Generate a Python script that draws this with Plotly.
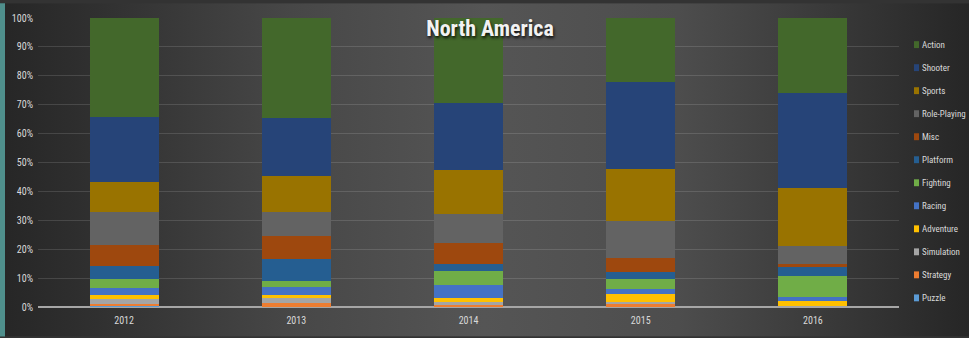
import base64
import plotly.graph_objects as go

# Share of North American sales by genre (percent of each year's total)
years = ["2012", "2013", "2014", "2015", "2016"]

# Stacking order: bottom segment first
genres = ["Puzzle", "Strategy", "Simulation", "Adventure", "Racing", "Fighting",
          "Platform", "Misc", "Role-Playing", "Sports", "Shooter", "Action"]

puzzle = [0.2, 0.1, 0.3, 0.1, 0.0]
strategy = [0.8, 1.4, 0.5, 0.8, 0.3]
simulation = [1.7, 1.6, 0.8, 0.8, 0.1]
adventure = [1.4, 1.1, 1.5, 2.7, 1.6]
racing = [2.6, 2.7, 4.4, 1.8, 1.5]
fighting = [2.9, 2.0, 5.1, 3.6, 7.1]
platform = [4.7, 7.6, 2.4, 2.4, 3.4]
misc = [7.0, 8.0, 7.2, 4.8, 1.0]
role_playing = [11.6, 8.4, 10.0, 12.9, 6.2]
sports = [10.5, 12.6, 15.1, 18.0, 20.1]
shooter = [22.5, 19.8, 23.3, 29.9, 32.8]
action = [34.1, 34.7, 29.4, 22.2, 25.9]

series = [puzzle, strategy, simulation, adventure, racing, fighting,
          platform, misc, role_playing, sports, shooter, action]

colors = ["#5b9bd5", "#ed7d31", "#a5a5a5", "#ffc000", "#4472c4", "#70ad47",
          "#255e91", "#9e480e", "#636363", "#997300", "#264478", "#43682b"]

W, H = 969, 338
ML, MR, MT, MB = 38, 70, 15, 30
PW, PH = W - ML - MR, H - MT - MB

FONT = "Liberation Sans Narrow, Arial Narrow, Roboto Condensed, Liberation Sans, sans-serif"
TXT = "#d9d9d9"

fig = go.Figure()
for name, vals, col in zip(genres, series, colors):
    fig.add_trace(go.Bar(
        x=years, y=vals, name=name,
        marker=dict(color=col, line=dict(width=0)),
        showlegend=False,
    ))

# Dark backdrop with a soft light centre
svg = (
    f'<svg xmlns="http://www.w3.org/2000/svg" width="{W}" height="{H}">'
    '<defs><linearGradient id="g" x1="0" y1="0" x2="1" y2="0">'
    '<stop offset="0" stop-color="#262626"/>'
    '<stop offset="0.1" stop-color="#303030"/>'
    '<stop offset="0.3" stop-color="#474747"/>'
    '<stop offset="0.5" stop-color="#555555"/>'
    '<stop offset="0.7" stop-color="#4d4d4d"/>'
    '<stop offset="0.88" stop-color="#363636"/>'
    '<stop offset="1" stop-color="#262626"/>'
    '</linearGradient></defs>'
    f'<rect width="{W}" height="{H}" fill="url(#g)"/></svg>'
)
src = "data:image/svg+xml;base64," + base64.b64encode(svg.encode()).decode()
fig.add_layout_image(dict(
    source=src, xref="paper", yref="paper",
    x=-ML / PW, y=1 + MT / PH, sizex=W / PW, sizey=H / PH,
    xanchor="left", yanchor="top", sizing="stretch", layer="below",
))

# Teal edge strip on the left
fig.add_shape(type="rect", xref="paper", yref="paper",
              x0=-ML / PW, x1=(5 - ML) / PW, y0=-MB / PH, y1=1 + MT / PH,
              fillcolor="#4f8f8c", line=dict(width=0), layer="above")

# Hand-built legend: top entry is the top of the stack
legend_top, legend_step = 42, 23.34
for i, (name, col) in enumerate(zip(genres[::-1], colors[::-1])):
    cy = legend_top + i * legend_step
    yc = 1 - (cy - MT) / PH
    fig.add_shape(type="rect", xref="paper", yref="paper",
                  x0=(914 - ML) / PW, x1=(919 - ML) / PW,
                  y0=yc - 3.5 / PH, y1=yc + 3.5 / PH,
                  fillcolor=col, line=dict(width=0))
    fig.add_annotation(text=name, xref="paper", yref="paper",
                       x=(920.5 - ML) / PW, y=yc, xanchor="left", yanchor="middle",
                       showarrow=False, font=dict(family=FONT, size=9, color=TXT))

fig.update_layout(
    width=W, height=H,
    margin=dict(l=ML, r=MR, t=MT, b=MB),
    barmode="stack", bargap=0.6,
    paper_bgcolor="#333333", plot_bgcolor="rgba(0,0,0,0)",
    title=dict(text="<b>North America</b>", x=490 / W, xanchor="center",
               y=1 - 28 / H, yanchor="middle",
               font=dict(family=FONT, size=22, color="#f2f2f2",
                         shadow="1px 2px 3px rgba(0,0,0,0.85)")),
    xaxis=dict(showgrid=False, showline=False, ticks="",
               tickfont=dict(family=FONT, size=10, color=TXT),
               ticklabelstandoff=6),
    yaxis=dict(range=[0, 100], dtick=10, ticksuffix="%",
               showgrid=True, gridcolor="rgba(255,255,255,0.13)", gridwidth=1,
               zeroline=True, zerolinecolor="#a6a6a6", zerolinewidth=1.5,
               showline=False, ticks="",
               tickfont=dict(family=FONT, size=10, color=TXT),
               ticklabelstandoff=4),
    showlegend=False,
)

fig.write_html("out.html")
